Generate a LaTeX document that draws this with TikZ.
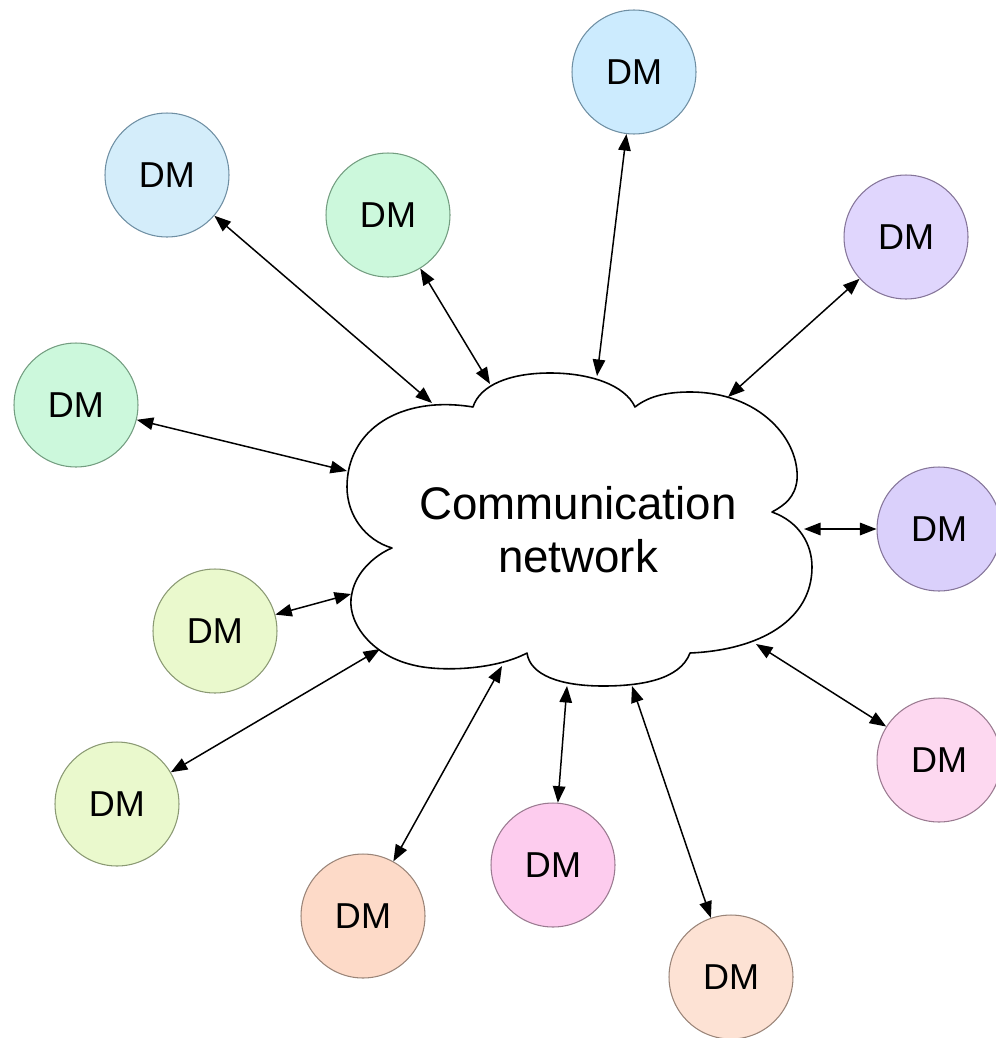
\documentclass[tikz,border=0pt]{standalone}
\usepackage{fontspec}
\setmainfont{Liberation Sans}
\usetikzlibrary{arrows.meta}
\definecolor{fblueA}{HTML}{D4EDFA}\definecolor{lblueA}{HTML}{6F8FA3}
\definecolor{fblueB}{HTML}{CCEBFE}\definecolor{lblueB}{HTML}{6F8FA3}
\definecolor{fgreen}{HTML}{CCF8DC}\definecolor{lgreen}{HTML}{739D80}
\definecolor{flilacA}{HTML}{E0D6FD}\definecolor{llilacA}{HTML}{857599}
\definecolor{flilacB}{HTML}{DAD0FB}\definecolor{llilacB}{HTML}{857599}
\definecolor{flime}{HTML}{EAF9CD}\definecolor{llime}{HTML}{8A9973}
\definecolor{fpinkA}{HTML}{FDD8F0}\definecolor{lpinkA}{HTML}{9A7A90}
\definecolor{fpinkB}{HTML}{FDCCEE}\definecolor{lpinkB}{HTML}{9A7A90}
\definecolor{fpeachA}{HTML}{FDDAC8}\definecolor{lpeachA}{HTML}{9A8478}
\definecolor{fpeachB}{HTML}{FDE2D4}\definecolor{lpeachB}{HTML}{9A8478}
\begin{document}
\begin{tikzpicture}[>={Triangle[length=3.3mm,width=2.5mm]},line join=round,x=0.02cm,y=-0.02cm,
		dm/.style={circle,minimum size=2.48cm,inner sep=0pt,line width=0.6pt,font=\fontsize{20.5}{24}\selectfont},
		link/.style={<->,line width=0.85pt}]
			\useasboundingbox (0,0) rectangle (995,1038);
			% decision makers
			\foreach \n/\x/\y/\c in {1/167/175/blueA,2/388/215/green,3/634/72/blueB,4/906/237/lilacA,
				5/76/405/green,6/939/529/lilacB,7/215/631/lime,8/939/760/pinkA,
				9/117/804/lime,10/553/865/pinkB,11/363/916/peachA,12/731/977/peachB}{
				\node[dm,fill=f\c,draw=l\c] (D\n) at (\x,\y) {DM};
			}
			% cloud
			\draw[line width=0.9pt,fill=white] (392,548)
				.. controls (365,540) and (347,515) .. (347,487)
				.. controls (347,430) and (400,395) .. (473,407)
				.. controls (480,385) and (510,373) .. (550,373)
				.. controls (590,373) and (625,385) .. (635,407)
				.. controls (650,395) and (670,392) .. (690,392)
				.. controls (760,392) and (800,440) .. (797,480)
				.. controls (795,497) and (785,505) .. (772,512)
				.. controls (800,522) and (812,545) .. (812,567)
				.. controls (812,620) and (760,650) .. (690,653)
				.. controls (680,680) and (640,686) .. (603,686)
				.. controls (560,686) and (530,675) .. (527,653)
				.. controls (495,670) and (440,672) .. (413,665)
				.. controls (370,655) and (345,620) .. (352,593)
				.. controls (356,572) and (375,555) .. cycle;
			\node[align=center,font=\fontsize{26}{30}\selectfont] (net) at (578,530) {Communication\\network};
			% ends on the cloud
			\foreach \i/\x/\y in {1/432/403,2/490/384,3/597/376,4/728/397,5/347/471,6/804/529,
				7/351/594,8/756/644,9/380/649,10/567/686,11/502/666,12/632/686}{
				\coordinate (C\i) at (\x,\y);
			}
			\foreach \i in {1,...,12}{
				\draw[link] (D\i) -- (C\i);
			}
		\end{tikzpicture}
\end{document}
